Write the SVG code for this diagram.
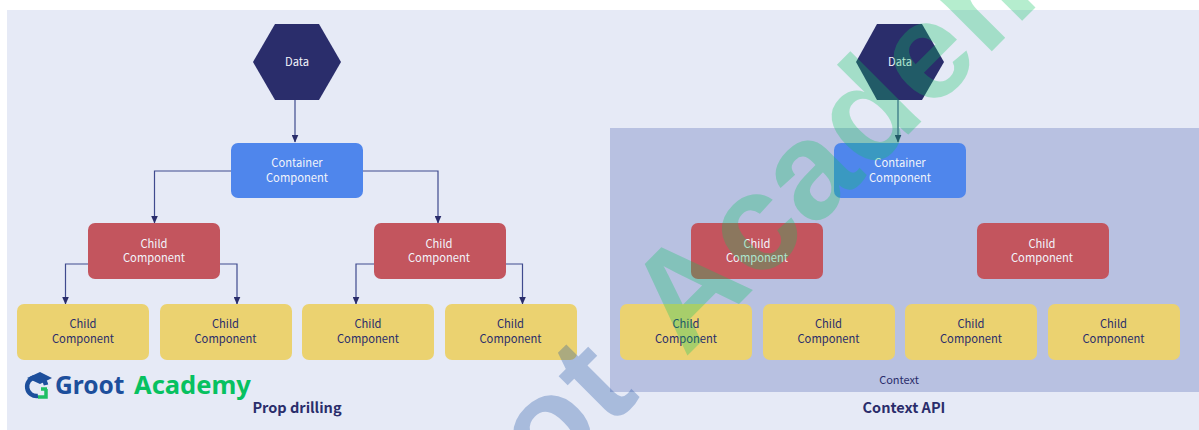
<svg xmlns="http://www.w3.org/2000/svg" width="1199" height="430" viewBox="0 0 1199 430">
<style>
text{font-family:"Noto Sans CJK SC","Noto Sans",sans-serif;text-anchor:middle}
.l{font-size:11.200px;font-weight:400}
.w{fill:#f2f4fb}.d{fill:#2a2d6b}
.b{fill:#4f86ec}.r{fill:#c3555e}.y{fill:#ebd270}
.t{font-size:14.500px;font-weight:700;fill:#2a2d6b}
.c{fill:none;stroke:#3f4a8e;stroke-width:1.2}
.wm{font-family:"Liberation Sans",Arial,sans-serif;font-size:138px;font-weight:700;opacity:.3;letter-spacing:2px}
</style>
<defs><marker id="a" markerWidth="8" markerHeight="7" refX="7.5" refY="3.5" orient="auto" markerUnits="userSpaceOnUse"><path d="M0 0L8 3.5L0 7Z" fill="#2a2d6b"/></marker></defs>
<rect width="1199" height="430" fill="#fff"/>
<rect x="7" y="10" width="1192" height="420" fill="#e6eaf6"/>
<rect id="context-area" x="610" y="128" width="589" height="264" fill="#b8c1e1"/>
<g id="connectors">
<path class="c" marker-end="url(#a)" d="M295 100V142"/>
<path class="c" marker-end="url(#a)" d="M231 171H154.500V223"/>
<path class="c" marker-end="url(#a)" d="M363 171H438V223"/>
<path class="c" marker-end="url(#a)" d="M88 264H65.500V304"/>
<path class="c" marker-end="url(#a)" d="M220 264H237V304"/>
<path class="c" marker-end="url(#a)" d="M374 264H356V304"/>
<path class="c" marker-end="url(#a)" d="M506 264H522.500V304"/>
<path class="c" marker-end="url(#a)" d="M898 100V142"/>
</g>
<g id="data-left"><path class="d" d="M253 62L275 24H319L341 62L319 100H275Z"/><text class="l w" x="297" y="65.500">Data</text></g>
<g id="container-left"><rect class="b" x="231" y="143" width="132" height="55" rx="7"/><text class="l w" x="297" y="167">Container</text><text class="l w" x="297" y="181.500">Component</text></g>
<g id="child-l1"><rect class="r" x="88" y="223" width="132" height="56" rx="7"/><text class="l w" x="154" y="247.500">Child</text><text class="l w" x="154" y="262">Component</text></g>
<g id="child-l2"><rect class="r" x="374" y="223" width="132" height="56" rx="7"/><text class="l w" x="439" y="247.500">Child</text><text class="l w" x="439" y="262">Component</text></g>
<g id="leaf-l1"><rect class="y" x="17" y="304" width="132" height="56" rx="7"/><text class="l d" x="83" y="328">Child</text><text class="l d" x="83" y="343">Component</text></g>
<g id="leaf-l2"><rect class="y" x="160" y="304" width="132" height="56" rx="7"/><text class="l d" x="225.500" y="328">Child</text><text class="l d" x="225.500" y="343">Component</text></g>
<g id="leaf-l3"><rect class="y" x="302" y="304" width="132" height="56" rx="7"/><text class="l d" x="368" y="328">Child</text><text class="l d" x="368" y="343">Component</text></g>
<g id="leaf-l4"><rect class="y" x="445" y="304" width="132" height="56" rx="7"/><text class="l d" x="510.500" y="328">Child</text><text class="l d" x="510.500" y="343">Component</text></g>
<g id="data-right"><path class="d" d="M856 62L877 24H922L944 62L922 100H877Z"/><text class="l w" x="900" y="65.500">Data</text></g>
<g id="container-right"><rect class="b" x="834" y="143" width="132" height="55" rx="7"/><text class="l w" x="900" y="167">Container</text><text class="l w" x="900" y="181.500">Component</text></g>
<g id="child-r1"><rect class="r" x="691" y="223" width="132" height="56" rx="7"/><text class="l w" x="757" y="247.500">Child</text><text class="l w" x="757" y="262">Component</text></g>
<g id="child-r2"><rect class="r" x="977" y="223" width="132" height="56" rx="7"/><text class="l w" x="1042" y="247.500">Child</text><text class="l w" x="1042" y="262">Component</text></g>
<g id="leaf-r1"><rect class="y" x="620" y="304" width="132" height="56" rx="7"/><text class="l d" x="686" y="328">Child</text><text class="l d" x="686" y="343">Component</text></g>
<g id="leaf-r2"><rect class="y" x="763" y="304" width="132" height="56" rx="7"/><text class="l d" x="828.500" y="328">Child</text><text class="l d" x="828.500" y="343">Component</text></g>
<g id="leaf-r3"><rect class="y" x="905" y="304" width="132" height="56" rx="7"/><text class="l d" x="971" y="328">Child</text><text class="l d" x="971" y="343">Component</text></g>
<g id="leaf-r4"><rect class="y" x="1048" y="304" width="132" height="56" rx="7"/><text class="l d" x="1113.500" y="328">Child</text><text class="l d" x="1113.500" y="343">Component</text></g>
<text class="l d" x="899" y="384" style="font-size:11px">Context</text>
<text class="t" x="297" y="413">Prop drilling</text>
<text class="t" x="904" y="413">Context API</text>
<g id="logo">
<path d="M27 378L40 372L52 378L40 384Z" fill="#1d4f9c"/>
<path d="M46 385A9.500 9.500 0 1 0 38 396" fill="none" stroke="#1d4f9c" stroke-width="4.500"/>
<path d="M38 397H46V389M41 389H47" fill="none" stroke="#1fbf63" stroke-width="3.500"/>
<text x="55" y="394" style="text-anchor:start;font-family:'Noto Sans',sans-serif;font-size:24.500px;font-weight:700;fill:#1d4f9c">Groot</text>
<text x="134" y="394" style="text-anchor:start;font-family:'Noto Sans',sans-serif;font-size:25.500px;font-weight:700;fill:#07c160">Academy</text>
</g>
<g id="watermark">
<text class="wm" transform="translate(685 358) rotate(-45)" fill="#0dc561" style="text-anchor:start">Academy</text>
<text class="wm" transform="translate(643 395) rotate(-45)" fill="#1b50a3" style="text-anchor:end">Groot</text>
</g>
</svg>
